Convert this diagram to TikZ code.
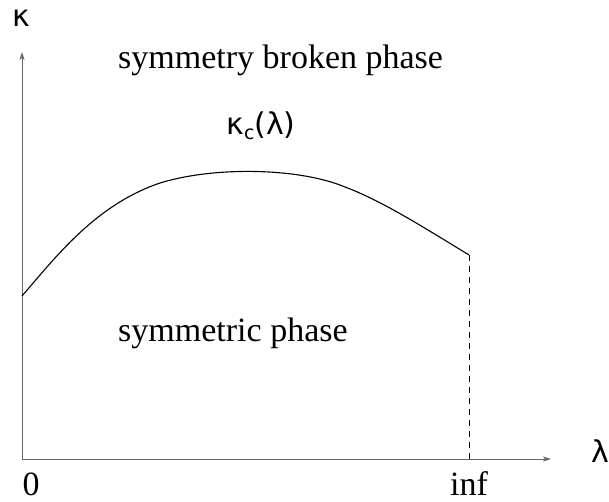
\documentclass[tikz,border=0pt]{standalone}
\usepackage{fontspec}
\setmainfont{Liberation Serif}
\newfontfamily\greekfont{DejaVu Sans}
\usetikzlibrary{arrows.meta}
\tikzset{
  axis/.style={draw=black!60, line width=0.9pt, -{Stealth[length=8pt,width=5pt,inset=2pt]}},
  curve/.style={draw=black, line width=1.1pt},
  guide/.style={draw=black, line width=0.9pt, dash pattern=on 6pt off 5pt},
  lbl/.style={inner sep=0pt, font=\fontsize{34}{40}\selectfont},
  glbl/.style={inner sep=0pt, font=\greekfont\fontsize{30}{34}\selectfont},
}
\begin{document}
\begin{tikzpicture}[x=1pt,y=-1pt]
\useasboundingbox (0,0) rectangle (609,501);
\coordinate (O) at (22,459);
\coordinate (ytop) at (22,52);
\coordinate (xend) at (551,459);
\coordinate (c0) at (22,296);
\coordinate (cend) at (469,255);
\coordinate (dbot) at (469,459);
\draw[axis] (O) -- (ytop);
\draw[axis] (O) -- (xend);
\draw[curve] (c0) .. controls (55,258) and (95,205) .. (160,183)
  .. controls (215,166) and (300,168) .. (345,187)
  .. controls (380,200) and (420,225) .. (cend);
\draw[guide] (cend) -- (dbot);
\node[glbl] (kappa) at (21,18) {κ};
\node[glbl] (lambda) at (600,451) {λ};
\node[glbl] (kc) at (261,126) {κ\raisebox{-5pt}{\fontsize{19}{22}\selectfont c}(λ)};
\node[lbl, anchor=base west] (broken) at (118,68) {symmetry broken phase};
\node[lbl, anchor=base west] (sym) at (118,341) {symmetric phase};
\node[lbl, anchor=base] (zero) at (31,495) {0};
\node[lbl, anchor=base] (inf) at (469,495) {inf};
\end{tikzpicture}
\end{document}
